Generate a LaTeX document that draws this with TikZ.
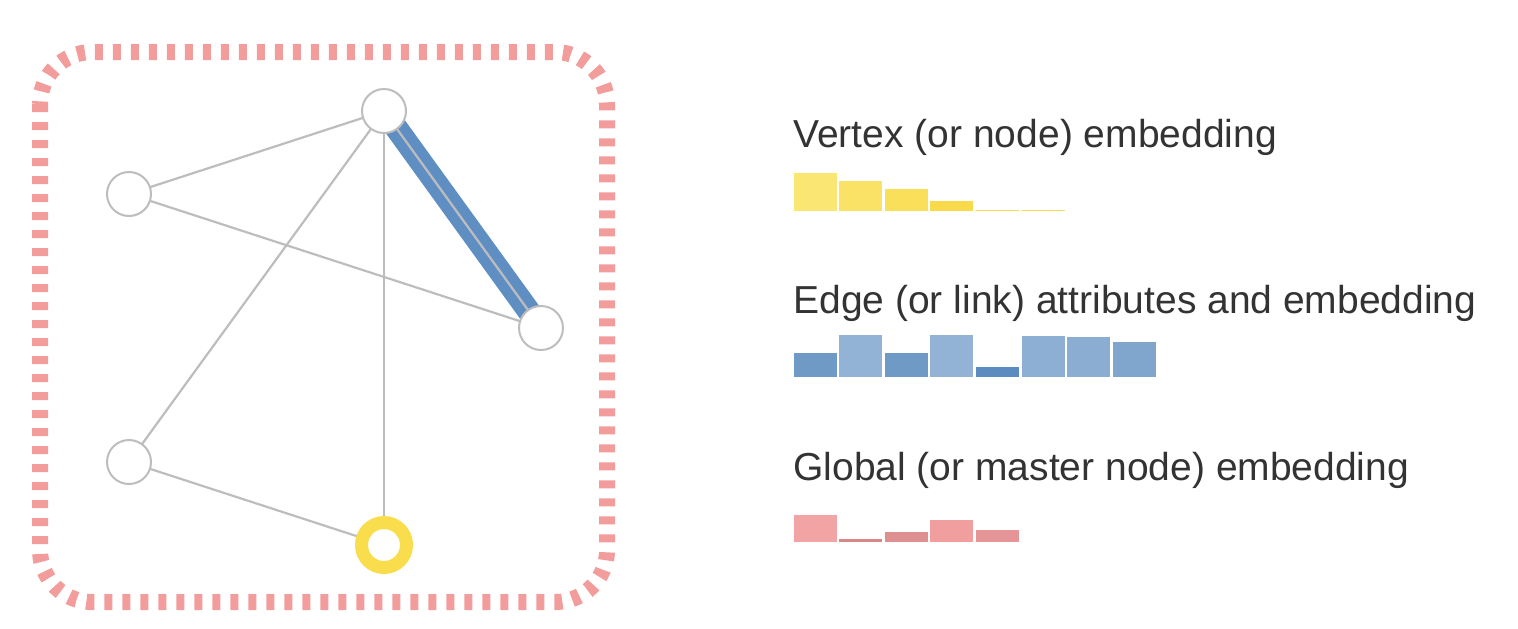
\documentclass[tikz,border=0pt]{standalone}
\usepackage{fontspec}
\setmainfont{Liberation Sans}
\usetikzlibrary{backgrounds}
\definecolor{framepink}{HTML}{F29C9C}
\definecolor{edgegray}{HTML}{BDBDBD}
\definecolor{edgeblue}{HTML}{5F8FC2}
\definecolor{ringyellow}{HTML}{F9DD4C}
\definecolor{labelgray}{HTML}{333333}
\begin{document}
\begin{tikzpicture}[x=0.5pt,y=-0.5pt,
    vertex/.style={circle,draw=edgegray,line width=1pt,fill=white,minimum size=22pt,inner sep=0pt},
    ringvertex/.style={circle,draw=ringyellow,line width=6.5pt,fill=white,minimum size=22.5pt,inner sep=0pt},
    edgeline/.style={draw=edgegray,line width=1.1pt},
    bar/.style={draw=white,line width=0.5pt,fill=barcol},
    caption/.style={anchor=base west,inner sep=0pt,text=labelgray,font=\fontsize{19.5pt}{23pt}\selectfont}]
    \useasboundingbox (0,0) rectangle (1518,628);
    % Marco punteado redondeado (grafo completo)
    \draw[framepink,line width=8pt,dash pattern=on 4pt off 5pt,rounded corners=26pt]
        (40,52) rectangle (607,602);
    % Vertices
    \node[vertex] (top) at (384,111) {};
    \node[vertex] (left) at (129,194) {};
    \node[vertex] (right) at (541,328) {};
    \node[vertex] (low) at (129,462) {};
    \node[ringvertex] (bottom) at (384,545) {};
    % Aristas, por debajo de los vertices
    \begin{scope}[on background layer]
        \draw[edgeblue,line width=11.5pt] (top.center) -- (right.center);
        \draw[edgeline] (top.center) -- (left.center);
        \draw[edgeline] (left.center) -- (right.center);
        \draw[edgeline] (top.center) -- (low.center);
        \draw[edgeline] (top.center) -- (bottom.center);
        \draw[edgeline] (top.center) -- (right.center);
        \draw[edgeline] (low.center) -- (bottom.center);
    \end{scope}
    % Leyenda
    \node[caption] (vertexcap) at (793,147) {Vertex (or node) embedding};
    \node[caption] (edgecap) at (793,313) {Edge (or link) attributes and embedding};
    \node[caption] (globalcap) at (793,480) {Global (or master node) embedding};
    % Barras amarillas: vertices
    \foreach \i/\h/\c in {0/39/FAE672,1/31/F9E265,2/23/F9DF5A,3/11/F8DA4A,4/2/F8DC55,5/2/F8DC55}{
        \definecolor{barcol}{HTML}{\c}
        \path[bar] (793+45.6*\i,211.5) rectangle ++(44,-\h);
    }
    % Barras azules: aristas
    \foreach \i/\h/\c in {0/25/6F9AC6,1/43/93B3D6,2/25/6F9AC6,3/43/93B3D6,4/11/5B8BBF,5/42/8EAFD4,6/41/8CADD2,7/36/80A6CD}{
        \definecolor{barcol}{HTML}{\c}
        \path[bar] (793+45.6*\i,377.5) rectangle ++(44,-\h);
    }
    % Barras rosas: global
    \foreach \i/\h/\c in {0/28/F2A3A3,1/4/D98787,2/11/DE8F8F,3/23/F09E9E,4/13/E59595}{
        \definecolor{barcol}{HTML}{\c}
        \path[bar] (793+45.6*\i,542.5) rectangle ++(44,-\h);
    }
\end{tikzpicture}
\end{document}
